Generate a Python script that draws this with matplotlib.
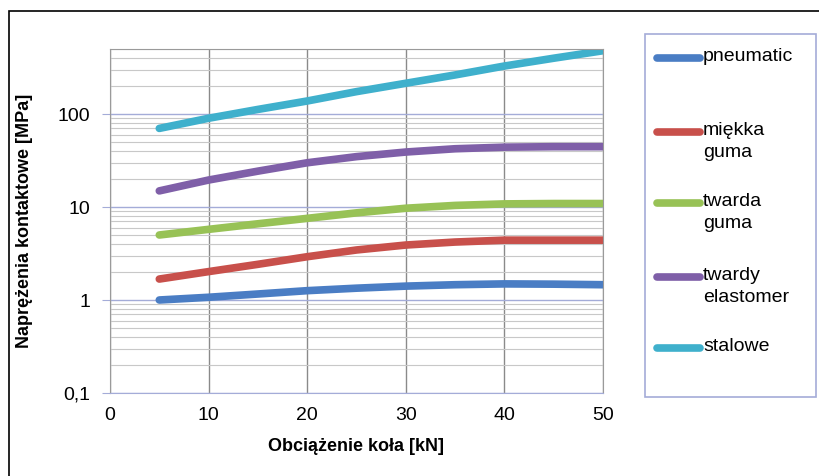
import matplotlib.pyplot as plt
from matplotlib.patches import Rectangle
from matplotlib.lines import Line2D
from matplotlib.ticker import FixedLocator, NullFormatter

plt.rcParams['font.family'] = ['Liberation Sans', 'DejaVu Sans']

obciazenie = [5, 10, 15, 20, 25, 30, 35, 40, 45, 50]
pneumatic = [1.0, 1.07, 1.16, 1.26, 1.34, 1.41, 1.46, 1.49, 1.48, 1.46]
miekka_guma = [1.68, 2.02, 2.42, 2.92, 3.45, 3.9, 4.2, 4.4, 4.4, 4.4]
twarda_guma = [5.0, 5.75, 6.6, 7.55, 8.65, 9.7, 10.4, 10.8, 10.9, 10.9]
twardy_elastomer = [14.9, 19.5, 24.3, 29.9, 34.8, 39, 42.3, 44, 44.5, 44.5]
stalowe = [70, 90, 112, 138, 174, 214, 263, 328, 398, 479]

serie = [
    ("pneumatic", pneumatic, "#4A7DC4"),
    ("miękka\nguma", miekka_guma, "#C8504B"),
    ("twarda\nguma", twarda_guma, "#98C256"),
    ("twardy\nelastomer", twardy_elastomer, "#7F5FA8"),
    ("stalowe", stalowe, "#3FB0CC"),
]

W, H = 820, 476
fig = plt.figure(figsize=(W / 100, H / 100), dpi=100)
ax = fig.add_axes([110 / W, 1 - 393 / H, 493 / W, 344 / H])

# ramka wokół całego rysunku
fig.patches.append(Rectangle((9 / W, -0.1), 1.2, 1 - 11 / H + 0.1,
                             transform=fig.transFigure, fill=False,
                             edgecolor="black", lw=1.2))

for nazwa, wartosci, kolor in serie:
    ax.plot(obciazenie, wartosci, color=kolor, lw=5.5, label=nazwa,
            solid_capstyle="round", solid_joinstyle="round")

ax.set_yscale("log")
ax.set_xlim(0, 50)
ax.set_ylim(0.1, 500)
ax.set_xticks([0, 10, 20, 30, 40, 50])
ax.yaxis.set_major_locator(FixedLocator([0.1, 1, 10, 100]))
ax.set_yticklabels(["0,1", "1", "10", "100"])
minor = [m * 10.0 ** e for e in range(-1, 3) for m in range(2, 10)]
minor = [v for v in minor if v <= 500]
ax.yaxis.set_minor_locator(FixedLocator(minor))
ax.yaxis.set_minor_formatter(NullFormatter())

ax.grid(True, which="major", axis="y", color="#A4ACD8", lw=1)
ax.grid(True, which="minor", axis="y", color="#C8C8C8", lw=0.8)
ax.grid(True, which="major", axis="x", color="#8A8A8A", lw=1)
ax.set_axisbelow(True)

for s in ax.spines.values():
    s.set_color("#9A9A9A")
ax.spines["bottom"].set_color("#A4ACD8")

ax.tick_params(axis="y", which="major", length=6, color="#A4ACD8",
               labelsize=14, pad=8)
ax.tick_params(axis="y", which="minor", length=0)
ax.tick_params(axis="x", length=0, labelsize=14, pad=10)

ax.set_xlabel("Obciążenie koła [kN]", fontsize=13, fontweight="bold",
              labelpad=10)
ax.set_ylabel("Naprężenia kontaktowe [MPa]", fontsize=13, fontweight="bold",
              labelpad=18)

# legenda rysowana ręcznie (uchwyt wyrównany do pierwszej linii opisu)
fig.patches.append(Rectangle((645 / W, 1 - 397 / H), 171 / W, 363 / H,
                             transform=fig.transFigure, fill=False,
                             edgecolor="#A4ACD8", lw=1.2))
wiersze = [58, 132, 203, 277, 348]
for (nazwa, _, kolor), yp in zip(serie, wiersze):
    fy = 1 - yp / H
    fig.add_artist(Line2D([657 / W, 700 / W], [fy, fy], color=kolor,
                          lw=5.5, solid_capstyle="round",
                          transform=fig.transFigure))
    fig.text(703 / W, fy + 10 / H, nazwa, fontsize=14, va="top", ha="left",
             linespacing=1.4)

fig.savefig("out.png", dpi=100)
